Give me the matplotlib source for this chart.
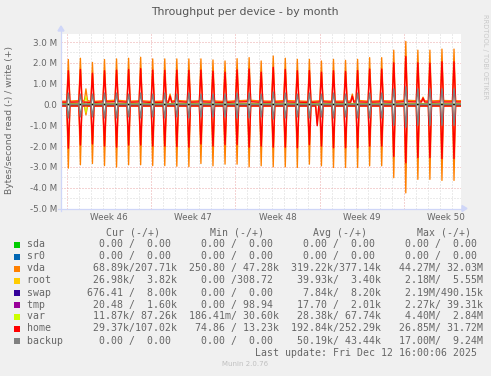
import matplotlib
matplotlib.use("Agg")
import matplotlib.pyplot as plt
from matplotlib.patches import Rectangle
from matplotlib.lines import Line2D

# ---------------- data (values in MB/s) ----------------
TITLE = "Throughput per device - by month"
YLABEL = "Bytes/second read (-) / write (+)"
week_labels = ["Week 46", "Week 47", "Week 48", "Week 49", "Week 50"]
week_starts = [0, 7, 14, 21, 28]          # days from Mon Nov 10 2025
ytick_values = [3, 2, 1, 0, -1, -2, -3, -4, -5]
ytick_labels = ["3.0 M", "2.0 M", "1.0 M", "0.0", "-1.0 M", "-2.0 M", "-3.0 M", "-4.0 M", "-5.0 M"]

spike_days = list(range(33))              # one nightly spike per day, Nov 10 .. Dec 12

vda_write_peak = [2.16, 2.22, 2.02, 2.16, 2.19, 2.22, 2.27, 2.19, 2.19, 2.19, 2.19, 2.19, 2.14, 2.09, 2.20,
                  2.25, 2.09, 2.33, 2.22, 2.17, 2.17, 2.09, 2.17, 2.12, 2.17, 2.25, 2.25, 2.61, 3.03, 2.61,
                  2.61, 2.66, 2.66]
vda_read_peak = [3.06, 2.90, 2.84, 2.94, 3.01, 2.90, 2.90, 2.94, 2.94, 2.97, 2.99, 2.84, 2.95, 2.87, 2.87,
                 3.00, 2.95, 3.00, 3.00, 3.03, 2.87, 2.95, 3.03, 3.03, 3.03, 2.95, 2.95, 3.52, 4.25, 3.60,
                 3.60, 3.65, 3.65]
home_write_peak = [1.62, 1.68, 1.50, 1.62, 1.65, 1.68, 1.72, 1.65, 1.64, 1.65, 1.64, 1.65, 1.60, 1.55, 1.66,
                   1.70, 1.55, 1.78, 1.68, 1.62, 1.63, 1.55, 1.62, 1.58, 1.63, 1.70, 1.70, 2.00, 2.30, 2.00,
                   1.98, 2.05, 2.05]
home_read_peak = [2.10, 1.95, 1.90, 2.00, 2.05, 1.95, 1.95, 2.00, 2.00, 2.02, 2.05, 1.90, 2.00, 1.93, 1.93,
                  2.05, 2.00, 2.05, 2.05, 2.08, 1.93, 2.00, 2.08, 2.08, 2.08, 2.00, 2.00, 2.50, 2.80, 2.55,
                  2.55, 2.60, 2.60]
backup_write_peak = [0.55, 0.50, 0.50, 0.55, 0.55, 0.50, 0.55, 0.50, 0.55, 0.50, 0.55, 0.50, 0.50, 0.50, 0.55,
                     0.55, 0.50, 0.60, 0.55, 0.50, 0.55, 0.50, 0.55, 0.50, 0.55, 0.55, 0.55, 0.75, 0.85, 0.75,
                     0.75, 0.75, 0.75]
backup_read_peak = [0.65, 0.60, 0.60, 0.65, 0.65, 0.60, 0.65, 0.60, 0.65, 0.60, 0.65, 0.60, 0.60, 0.60, 0.65,
                    0.65, 0.60, 0.70, 0.65, 0.60, 0.65, 0.60, 0.65, 0.60, 0.65, 0.65, 0.65, 1.00, 1.10, 1.00,
                    1.00, 1.00, 1.00]

vda_write_base = [0.16, 0.19, 0.15, 0.18, 0.20, 0.16, 0.18, 0.15, 0.17, 0.19, 0.16, 0.18, 0.17, 0.15, 0.18,
                  0.20, 0.17, 0.16, 0.19, 0.17, 0.15, 0.18, 0.16, 0.17, 0.19, 0.16, 0.18, 0.17, 0.20, 0.18,
                  0.17, 0.19, 0.18]
vda_read_base = [0.08] * 33
home_write_base = [0.11, 0.12, 0.10, 0.12, 0.13, 0.11, 0.12, 0.10, 0.11, 0.13, 0.11, 0.12, 0.11, 0.10, 0.12,
                   0.13, 0.11, 0.11, 0.12, 0.11, 0.10, 0.12, 0.11, 0.11, 0.12, 0.11, 0.12, 0.11, 0.13, 0.12,
                   0.11, 0.12, 0.12]
home_read_base = [0.07] * 33
var_write_base = [0.05] * 33
var_read_base = [0.02] * 33
root_write_base = [0.01] * 33
root_read_base = [0.03] * 33
zero_base = [0.0] * 33
zero_peak = [0.0] * 33

# occasional bursts outside the nightly spike: (day, value)
vda_write_events = [(1.6, 0.75), (8.58, 0.50), (23.7, 0.50), (29.57, 0.35)]
vda_read_events = [(1.6, 0.50), (20.79, 0.90)]
home_write_events = [(8.58, 0.40), (23.7, 0.40), (29.57, 0.30)]
home_read_events = [(20.79, 1.02)]
var_write_events = [(1.6, 0.38)]
var_read_events = [(1.6, 0.40)]

COLORS = {"sda": "#00CC00", "sr0": "#0066B3", "vda": "#FF8000", "root": "#FFCC00", "swap": "#330099",
          "tmp": "#990099", "var": "#CCFF00", "home": "#FF0000", "backup": "#808080"}

legend_rows = [
    ("sda",    "  0.00 /  0.00 ", "  0.00 /  0.00 ", "  0.00 /  0.00 ", "  0.00 /  0.00 "),
    ("sr0",    "  0.00 /  0.00 ", "  0.00 /  0.00 ", "  0.00 /  0.00 ", "  0.00 /  0.00 "),
    ("vda",    " 68.89k/207.71k", "250.80 / 47.28k", "319.22k/377.14k", " 44.27M/ 32.03M"),
    ("root",   " 26.98k/  3.82k", "  0.00 /308.72 ", " 39.93k/  3.40k", "  2.18M/  5.55M"),
    ("swap",   "676.41 /  8.00k", "  0.00 /  0.00 ", "  7.84k/  8.20k", "  2.19M/490.15k"),
    ("tmp",    " 20.48 /  1.60k", "  0.00 / 98.94 ", " 17.70 /  2.01k", "  2.27k/ 39.31k"),
    ("var",    " 11.87k/ 87.26k", "186.41m/ 30.60k", " 28.38k/ 67.74k", "  4.40M/  2.84M"),
    ("home",   " 29.37k/107.02k", " 74.86 / 13.23k", "192.84k/252.29k", " 26.85M/ 31.72M"),
    ("backup", "  0.00 /  0.00 ", "  0.00 /  0.00 ", " 50.19k/ 43.44k", " 17.00M/  9.24M"),
]
headers = ["Cur (-/+)", "Min (-/+)", "Avg (-/+)", "Max (-/+)"]
LAST_UPDATE = "Last update: Fri Dec 12 16:00:06 2025"
FOOTER = "Munin 2.0.76"
WATERMARK = "RRDTOOL / TOBI OETIKER"

# ---------------- layout ----------------
W, H = 491, 376
SPIKE_OFFSET = 0.14
HALF = 0.13
EV_HALF = 0.13
X0, X1 = -0.47, 32.72
Y0, Y1 = -5.0, 3.41
FONT_C = "#666666"


def fx(px):
    return px / W


def fy(py):
    return 1 - py / H


def build(base, peak, events, sign):
    pts = [(X0 - 0.1, base[0]), (32.67, base[-1])]
    for i, d in enumerate(spike_days):
        t = d + SPIKE_OFFSET
        pts += [(t - HALF, base[i]), (t, peak[i]), (t + HALF, base[i])]
    for t, v in events:
        b = base[int(t)]
        pts += [(t - EV_HALF, b), (t, v), (t + EV_HALF, b)]
    pts.sort()
    xs = [p[0] for p in pts if p[0] <= 32.67]
    ys = [sign * p[1] for p in pts if p[0] <= 32.67]
    return xs, ys


fig = plt.figure(figsize=(W / 100, H / 100), dpi=100, facecolor="#F0F0F0")
ax = fig.add_axes([fx(61), fy(208.5), 400 / W, 175 / H])
ax.set_facecolor("white")
ax.set_xlim(X0, X1)
ax.set_ylim(Y0, Y1)
for s in ax.spines.values():
    s.set_visible(False)

# grid
dots = (0, (1, 2))
MINOR_C = "#D8D8D8"
MAJOR_C = "#EBA8A8"
for d in range(33):
    if d in week_starts:
        continue
    ax.axvline(d, color=MINOR_C, lw=0.72, ls=dots, zorder=0)
for d in week_starts:
    ax.axvline(d, color=MAJOR_C, lw=0.72, ls=dots, zorder=0)
for k in range(-10, 7):
    v = k * 0.5
    ax.axhline(v, color=MAJOR_C if k % 2 == 0 else MINOR_C, lw=0.72, ls=dots, zorder=0)

LW = {"vda": 0.95, "home": 1.05, "backup": 1.0}
series = [
    ("sda", zero_base, zero_peak, [], zero_base, zero_peak, []),
    ("sr0", zero_base, zero_peak, [], zero_base, zero_peak, []),
    ("vda", vda_read_base, vda_read_peak, vda_read_events, vda_write_base, vda_write_peak, vda_write_events),
    ("root", root_read_base, zero_peak, [], root_write_base, zero_peak, []),
    ("swap", zero_base, zero_peak, [], zero_base, zero_peak, []),
    ("tmp", zero_base, zero_peak, [], zero_base, zero_peak, []),
    ("var", var_read_base, zero_peak, var_read_events, var_write_base, zero_peak, var_write_events),
    ("home", home_read_base, home_read_peak, home_read_events, home_write_base, home_write_peak, home_write_events),
]
z = 2
for name, rb, rp, re, wb, wp, we in series:
    lw = LW.get(name, 0.75)
    xs, ys = build(rb, rp, re, -1)
    ax.plot(xs, ys, color=COLORS[name], lw=lw, zorder=z)
    xs, ys = build(wb, wp, we, 1)
    ax.plot(xs, ys, color=COLORS[name], lw=lw, zorder=z)
    z += 1
ax.axhline(0, color="black", lw=1.0, zorder=z)
z += 1
xs, ys = build(zero_base, backup_read_peak, [], -1)
ax.plot(xs, ys, color=COLORS["backup"], lw=LW["backup"], zorder=z)
xs, ys = build(zero_base, backup_write_peak, [], 1)
ax.plot(xs, ys, color=COLORS["backup"], lw=LW["backup"], zorder=z)

# ticks
ax.set_yticks(ytick_values)
ax.set_yticklabels(ytick_labels)
ax.set_xticks([w + 3.5 for w in week_starts])
ax.set_xticklabels(week_labels)
ax.tick_params(axis="both", length=0, labelsize=6.3, labelcolor=FONT_C, pad=3)

# axes with arrows
AXC = "#CFD6F8"
fig.add_artist(Line2D([fx(58), fx(462)], [fy(208.5), fy(208.5)], color=AXC, lw=0.9))
fig.add_artist(Line2D([fx(61), fx(61)], [fy(211), fy(31)], color=AXC, lw=0.9))
fig.add_artist(plt.Polygon([[fx(462), fy(205.5)], [fx(467), fy(208.5)], [fx(462), fy(211.5)]],
                           closed=True, color=AXC, transform=fig.transFigure))
fig.add_artist(plt.Polygon([[fx(58), fy(31)], [fx(61), fy(26)], [fx(64), fy(31)]],
                           closed=True, color=AXC, transform=fig.transFigure))

# texts
fig.text(fx(245), fy(12), TITLE, ha="center", va="center", fontsize=7.8, color="#555555")
fig.text(fx(10), fy(120.5), YLABEL, rotation=90, ha="center", va="center", fontsize=6.6, color=FONT_C)
fig.text(fx(485), fy(14), WATERMARK, rotation=270, ha="center", va="top", fontsize=4.8, color="#C8C8C8")

MONO = "DejaVu Sans Mono"
FS = 7.12
for hx, h in zip([106, 210, 313.3, 416.7], headers):
    fig.text(fx(hx), fy(232.7), h, ha="left", va="center", family=MONO, fontsize=FS, color=FONT_C)
for i, (name, c1, c2, c3, c4) in enumerate(legend_rows):
    yc = 244.5 + 12 * i
    fig.add_artist(Rectangle((fx(14), fy(yc + 3)), 6 / W, 6 / H, transform=fig.transFigure,
                             facecolor=COLORS[name], edgecolor="none"))
    line = name.ljust(10) + c1 + "  " + c2 + "  " + c3 + "  " + c4
    fig.text(fx(26.7), fy(yc), line, ha="left", va="center", family=MONO, fontsize=FS, color=FONT_C)
fig.text(fx(477), fy(352.7), LAST_UPDATE, ha="right", va="center", family=MONO, fontsize=FS, color=FONT_C)
fig.text(fx(245), fy(364.3), FOOTER, ha="center", va="center", fontsize=5.0, color="#C0C0C0")

fig.savefig("out.png", dpi=100, facecolor=fig.get_facecolor())
